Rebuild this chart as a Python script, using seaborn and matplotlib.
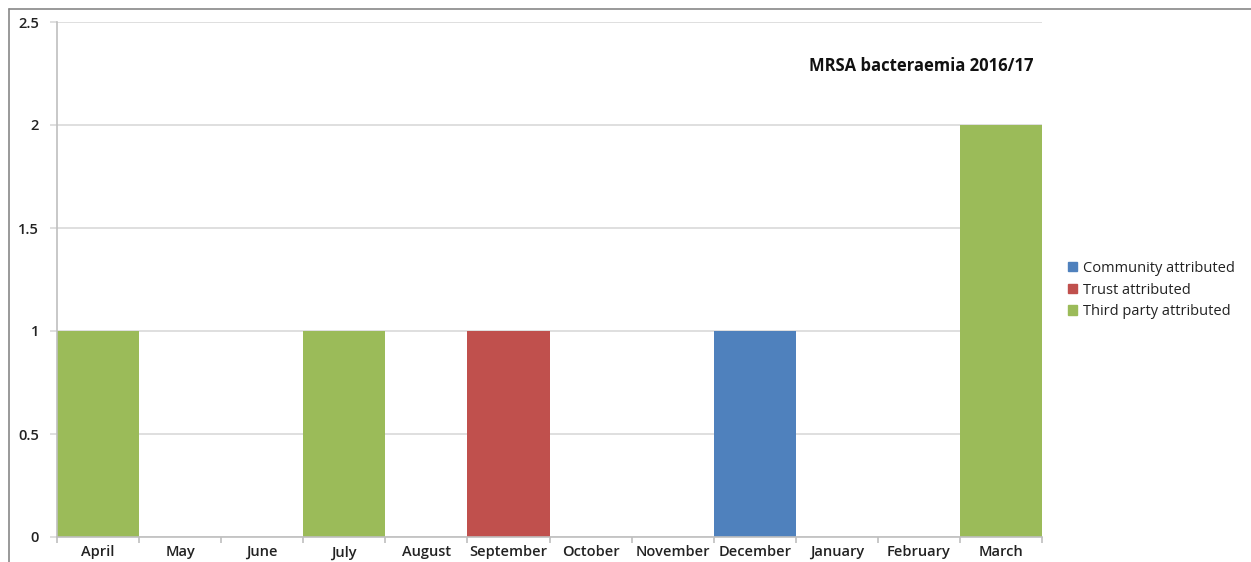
import matplotlib
matplotlib.use("Agg")
import matplotlib.pyplot as plt
from matplotlib.lines import Line2D
import seaborn as sns
import pandas as pd

months = ["April", "May", "June", "July", "August", "September", "October",
          "November", "December", "January", "February", "March"]
community = [0, 0, 0, 0, 0, 0, 0, 0, 1, 0, 0, 0]
trust = [0, 0, 0, 0, 0, 1, 0, 0, 0, 0, 0, 0]
third_party = [1, 0, 0, 1, 0, 0, 0, 0, 0, 0, 0, 2]
series_names = ["Community attributed", "Trust attributed", "Third party attributed"]
series_colors = ["#4F81BD", "#C0504D", "#9BBB59"]
title = "MRSA bacteraemia 2016/17"

rows = []
for name, vals in zip(series_names, [community, trust, third_party]):
    for m, v in zip(months, vals):
        rows.append({"month": m, "cases": v, "source": name})
df = pd.DataFrame(rows)

sns.set_theme(style="white")
plt.rcParams["font.family"] = ["Open Sans", "DejaVu Sans"]

fig = plt.figure(figsize=(12.51, 5.62), dpi=100)
ax = fig.add_axes([57 / 1251, 1 - 537 / 562, (1042 - 57) / 1251, (537 - 22) / 562])

sns.histplot(data=df, x="month", weights="cases", hue="source",
             hue_order=series_names, palette=series_colors, multiple="stack",
             discrete=True, shrink=1.0, alpha=1, linewidth=0, ax=ax, legend=False)

ax.set_xlim(-0.5, len(months) - 0.5)
ax.set_ylim(0, 2.5)
ax.set_yticks([0, 0.5, 1, 1.5, 2, 2.5])
ax.set_yticklabels(["0", "0.5", "1", "1.5", "2", "2.5"])
ax.set_xticks(range(len(months)))
ax.set_xticklabels(months)
ax.set_xticks([i - 0.5 for i in range(len(months) + 1)], minor=True)
ax.set_xlabel("")
ax.set_ylabel("")

ax.yaxis.grid(True, color="#D9D9D9", linewidth=1.2)
ax.set_axisbelow(True)
for s in ["top", "right"]:
    ax.spines[s].set_visible(False)
for s in ["left", "bottom"]:
    ax.spines[s].set_color("#BFBFBF")
    ax.spines[s].set_linewidth(1.2)

ax.tick_params(axis="y", which="major", length=5, color="#D9D9D9", width=1.2,
               labelsize=10.5, labelcolor="#222222", pad=8, left=True)
ax.tick_params(axis="x", which="major", length=0, labelsize=10.5,
               labelcolor="#222222", pad=6)
ax.tick_params(axis="x", which="minor", length=4, color="#BFBFBF", width=1.2,
               bottom=True)
for lbl in ax.get_xticklabels() + ax.get_yticklabels():
    lbl.set_fontweight("semibold")

ax.text(0.991, 0.915, title, transform=ax.transAxes, ha="right", va="center",
        fontsize=12, fontweight="bold", color="#111111")

handles = [plt.Rectangle((0, 0), 1, 1, color=c) for c in series_colors]
leg = fig.legend(handles, series_names, loc="center left",
                 bbox_to_anchor=(1068 / 1251, 1 - 290 / 562), frameon=False,
                 fontsize=10.5, handlelength=0.6, handleheight=0.6, handletextpad=0.4,
                 labelspacing=0.45, borderaxespad=0, borderpad=0)
for t in leg.get_texts():
    t.set_color("#222222")

# outer chart frame (top and left edges)
fig.add_artist(Line2D([8.5 / 1251, 1], [1 - 8.5 / 562, 1 - 8.5 / 562],
                      transform=fig.transFigure, color="#888888", linewidth=1.2))
fig.add_artist(Line2D([8.5 / 1251, 8.5 / 1251], [0, 1 - 8.5 / 562],
                      transform=fig.transFigure, color="#888888", linewidth=1.2))

fig.savefig("out.png", dpi=100)
